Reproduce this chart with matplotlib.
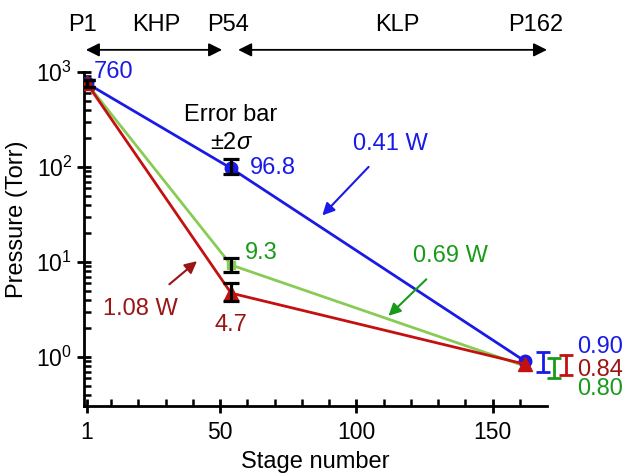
import matplotlib
matplotlib.use("Agg")
import matplotlib.pyplot as plt
import matplotlib.transforms as mtransforms
import numpy as np

plt.rcParams['font.family'] = ['Liberation Sans', 'DejaVu Sans']
plt.rcParams['mathtext.fontset'] = 'custom'
plt.rcParams['mathtext.rm'] = 'Liberation Sans'
plt.rcParams['mathtext.it'] = 'Liberation Sans:italic'

# data
stages = [1, 54, 162]
p_041w = [760, 96.8, 0.90]
p_069w = [760, 9.3, 0.80]
p_108w = [760, 4.7, 0.84]
# +-2 sigma (lower, upper)
err_041w = [[60, 12, 0.2], [60, 25, 0.22]]
err_069w = [[60, 1.4, 0.2], [60, 1.8, 0.17]]
err_108w = [[60, 0.8, 0.2], [60, 1.3, 0.22]]
end_err_x = [168.5, 172.5, 177]
x_ticks = [1, 50, 100, 150]
x_ticklabels = ['1', '50', '100', '150']

blue = '#1a1ae6'
green_line = '#88cc55'
green_txt = '#1a9a1a'
red_line = '#c41010'
red_txt = '#9a1515'

fig = plt.figure(figsize=(6.25, 4.73), dpi=100)
ax = fig.add_axes([0.1344, 0.1416, 0.7408, 0.7064])

ax.plot(stages, p_041w, color=blue, lw=2, marker='o', ms=9, zorder=3)
ax.plot(stages, p_069w, color=green_line, lw=2, marker='s', ms=6, zorder=2)
ax.plot(stages, p_108w, color=red_line, lw=2, marker='^', ms=10, zorder=4)

# black error bars at stage 1 and 54
for vals, err in [(p_041w, err_041w), (p_069w, err_069w), (p_108w, err_108w)]:
    ax.errorbar(stages[:2], vals[:2], yerr=[err[0][:2], err[1][:2]], fmt='none',
                ecolor='black', elinewidth=2.3, capsize=6, capthick=2.3, zorder=5)

# coloured error bars beside the last stage
for xe, vals, err, c in [(end_err_x[0], p_041w, err_041w, blue),
                         (end_err_x[1], p_069w, err_069w, green_txt),
                         (end_err_x[2], p_108w, err_108w, red_line)]:
    ax.errorbar([xe], [vals[2]], yerr=[[err[0][2]], [err[1][2]]], fmt='none',
                ecolor=c, elinewidth=2, capsize=5, capthick=2, clip_on=False)

ax.set_yscale('log')
ax.set_ylim(0.305, 1000)
ax.set_xlim(0, 170)
ax.set_xticks(x_ticks)
ax.set_xticks(np.arange(10, 161, 10), minor=True)
ax.set_xticklabels(x_ticklabels)
ax.spines['top'].set_visible(False)
ax.spines['right'].set_visible(False)
for s in ['left', 'bottom']:
    ax.spines[s].set_linewidth(2)
ax.tick_params(which='major', direction='inout', length=10, width=2, labelsize=16.5)
ax.tick_params(axis='x', which='major', pad=6)
ax.tick_params(which='minor', direction='in', length=5, width=1.8)
ax.set_xlabel('Stage number', fontsize=17, labelpad=5)
ax.set_ylabel('Pressure (Torr)', fontsize=17)
ax.yaxis.set_label_coords(-0.12, 0.56)

# value labels
fs = 17
ax.text(3.7, 1000, '760', color=blue, fontsize=fs, va='center', ha='left')
ax.text(61, 96.8, '96.8', color=blue, fontsize=fs, va='center', ha='left')
ax.text(59, 12.5, '9.3', color=green_txt, fontsize=fs, va='center', ha='left')
ax.text(54, 2.17, '4.7', color=red_txt, fontsize=fs, va='center', ha='center')
ax.text(181, 1.26, '0.90', color=blue, fontsize=fs, va='center', ha='left', clip_on=False)
ax.text(181, 0.735, '0.84', color=red_txt, fontsize=fs, va='center', ha='left', clip_on=False)
ax.text(181, 0.46, '0.80', color=green_txt, fontsize=fs, va='center', ha='left', clip_on=False)
ax.text(54, 355, 'Error bar', color='black', fontsize=fs, ha='center', va='center')
ax.text(54, 180, '$\\pm2\\sigma$', color='black', fontsize=fs, ha='center', va='center')

# power annotations
ax.annotate('0.41 W', xy=(87.5, 30.9), xytext=(112.5, 174), color=blue, fontsize=fs,
            ha='center', va='center',
            arrowprops=dict(arrowstyle='-|>', color=blue, lw=1.5, mutation_scale=18,
                            shrinkA=9, shrinkB=0))
ax.annotate('0.69 W', xy=(111.8, 2.71), xytext=(134.6, 11.6), color=green_txt, fontsize=fs,
            ha='center', va='center',
            arrowprops=dict(arrowstyle='-|>', color=green_txt, lw=1.5, mutation_scale=18,
                            shrinkA=10, shrinkB=0))
ax.annotate('1.08 W', xy=(41.5, 10.2), xytext=(20.6, 3.22), color=red_txt, fontsize=fs,
            ha='center', va='center',
            arrowprops=dict(arrowstyle='-|>', color=red_txt, lw=1.5, mutation_scale=18,
                            shrinkA=12, shrinkB=0))

# section arrows above the axes
trans = mtransforms.blended_transform_factory(ax.transData, ax.transAxes)
arr = dict(arrowstyle='<|-|>', color='black', lw=1.3, mutation_scale=20, shrinkA=0, shrinkB=0)
ax.annotate('', xy=(0.7, 1.066), xytext=(50.7, 1.066), xycoords=trans, textcoords=trans,
            arrowprops=arr, annotation_clip=False)
ax.annotate('', xy=(56.6, 1.066), xytext=(170, 1.066), xycoords=trans, textcoords=trans,
            arrowprops=arr, annotation_clip=False)
for xp, lab in [(-0.7, 'P1'), (26.5, 'KHP'), (53, 'P54'), (115, 'KLP'), (166, 'P162')]:
    ax.text(xp, 1.14, lab, transform=trans, fontsize=fs, ha='center', va='center')

fig.savefig('out.png', dpi=100)
